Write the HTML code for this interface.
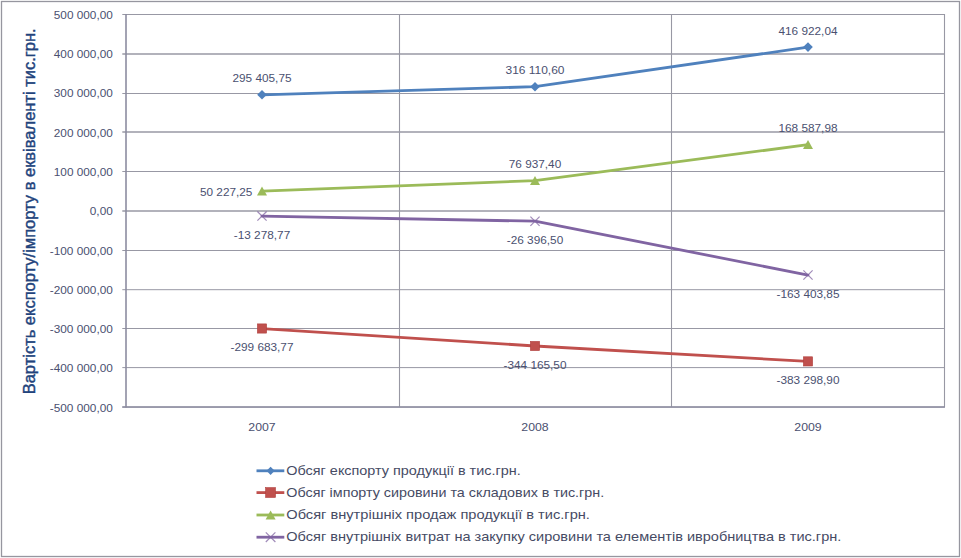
<!DOCTYPE html><html><head><meta charset="utf-8"><style>
html,body{margin:0;padding:0;background:#fff;}
svg{display:block;}
text{font-family:"Liberation Sans", sans-serif;}
</style></head><body>
<svg width="961" height="558" viewBox="0 0 961 558">
<rect x="0" y="0" width="961" height="558" fill="#fff"/>
<rect x="1.5" y="1.5" width="958" height="555" fill="none" stroke="#96969f" stroke-width="1.3"/>
<line x1="122.3" y1="14.5" x2="944.5" y2="14.5" stroke="#9898a4" stroke-width="1.0"/><line x1="122.3" y1="54.0" x2="944.5" y2="54.0" stroke="#9898a4" stroke-width="1.35"/><line x1="122.3" y1="93.5" x2="944.5" y2="93.5" stroke="#9898a4" stroke-width="1.0"/><line x1="122.3" y1="132.0" x2="944.5" y2="132.0" stroke="#9898a4" stroke-width="1.35"/><line x1="122.3" y1="171.5" x2="944.5" y2="171.5" stroke="#9898a4" stroke-width="1.0"/><line x1="122.3" y1="211.0" x2="944.5" y2="211.0" stroke="#9898a4" stroke-width="1.35"/><line x1="122.3" y1="250.5" x2="944.5" y2="250.5" stroke="#9898a4" stroke-width="1.0"/><line x1="122.3" y1="289.7" x2="944.5" y2="289.7" stroke="#9898a4" stroke-width="1.0"/><line x1="122.3" y1="328.5" x2="944.5" y2="328.5" stroke="#9898a4" stroke-width="1.0"/><line x1="122.3" y1="367.6" x2="944.5" y2="367.6" stroke="#9898a4" stroke-width="1.0"/><line x1="122.3" y1="407.1" x2="944.5" y2="407.1" stroke="#9898a4" stroke-width="1.0"/>
<line x1="399.5" y1="14" x2="399.5" y2="407" stroke="#9898a4" stroke-width="1.1"/>
<line x1="671.5" y1="14" x2="671.5" y2="407" stroke="#9898a4" stroke-width="1.1"/>
<line x1="944.5" y1="14" x2="944.5" y2="407" stroke="#9898a4" stroke-width="1.1"/>
<line x1="126" y1="14" x2="126" y2="407.5" stroke="#8c8ca0" stroke-width="1.6"/>
<line x1="122.3" y1="407" x2="945.0" y2="407" stroke="#8c8ca0" stroke-width="1.5"/>
<text x="112.8" y="18.9" font-size="11" fill="#4a5070" text-anchor="end" textLength="59.0" lengthAdjust="spacingAndGlyphs">500 000,00</text>
<text x="112.8" y="58.2" font-size="11" fill="#4a5070" text-anchor="end" textLength="59.0" lengthAdjust="spacingAndGlyphs">400 000,00</text>
<text x="112.8" y="97.4" font-size="11" fill="#4a5070" text-anchor="end" textLength="59.0" lengthAdjust="spacingAndGlyphs">300 000,00</text>
<text x="112.8" y="136.7" font-size="11" fill="#4a5070" text-anchor="end" textLength="59.0" lengthAdjust="spacingAndGlyphs">200 000,00</text>
<text x="112.8" y="176.0" font-size="11" fill="#4a5070" text-anchor="end" textLength="59.0" lengthAdjust="spacingAndGlyphs">100 000,00</text>
<text x="112.8" y="215.3" font-size="11" fill="#4a5070" text-anchor="end" textLength="23.0" lengthAdjust="spacingAndGlyphs">0,00</text>
<text x="112.8" y="254.5" font-size="11" fill="#4a5070" text-anchor="end" textLength="63.0" lengthAdjust="spacingAndGlyphs">-100 000,00</text>
<text x="112.8" y="293.8" font-size="11" fill="#4a5070" text-anchor="end" textLength="63.0" lengthAdjust="spacingAndGlyphs">-200 000,00</text>
<text x="112.8" y="333.1" font-size="11" fill="#4a5070" text-anchor="end" textLength="63.0" lengthAdjust="spacingAndGlyphs">-300 000,00</text>
<text x="112.8" y="372.3" font-size="11" fill="#4a5070" text-anchor="end" textLength="63.0" lengthAdjust="spacingAndGlyphs">-400 000,00</text>
<text x="112.8" y="411.6" font-size="11" fill="#4a5070" text-anchor="end" textLength="63.0" lengthAdjust="spacingAndGlyphs">-500 000,00</text>
<text x="262.0" y="431.2" font-size="11" fill="#4a5070" text-anchor="middle" textLength="27.3" lengthAdjust="spacingAndGlyphs">2007</text>
<text x="535.0" y="431.2" font-size="11" fill="#4a5070" text-anchor="middle" textLength="27.3" lengthAdjust="spacingAndGlyphs">2008</text>
<text x="808.0" y="431.2" font-size="11" fill="#4a5070" text-anchor="middle" textLength="27.3" lengthAdjust="spacingAndGlyphs">2009</text>
<polyline points="262.0,94.84 535.0,86.71 808.0,47.12" fill="none" stroke="#4F81BD" stroke-width="2.8" stroke-linejoin="round" stroke-linecap="round"/>
<polyline points="262.0,328.54 535.0,346.00 808.0,361.37" fill="none" stroke="#C0504D" stroke-width="2.8" stroke-linejoin="round" stroke-linecap="round"/>
<polyline points="262.0,191.13 535.0,180.64 808.0,144.65" fill="none" stroke="#9BBB59" stroke-width="2.8" stroke-linejoin="round" stroke-linecap="round"/>
<polyline points="262.0,216.06 535.0,221.22 808.0,275.02" fill="none" stroke="#8064A2" stroke-width="2.8" stroke-linejoin="round" stroke-linecap="round"/>
<path d="M262.0,90.0 L266.8,94.8 L262.0,99.6 L257.2,94.8 Z" fill="#4F81BD"/>
<path d="M535.0,81.9 L539.8,86.7 L535.0,91.5 L530.2,86.7 Z" fill="#4F81BD"/>
<path d="M808.0,42.3 L812.8,47.1 L808.0,51.9 L803.2,47.1 Z" fill="#4F81BD"/>
<rect x="257.4" y="323.9" width="9.2" height="9.2" fill="#C0504D" stroke="#b0403e" stroke-width="0.6"/>
<rect x="530.4" y="341.4" width="9.2" height="9.2" fill="#C0504D" stroke="#b0403e" stroke-width="0.6"/>
<rect x="803.4" y="356.8" width="9.2" height="9.2" fill="#C0504D" stroke="#b0403e" stroke-width="0.6"/>
<path d="M262.0,186.5 L267.0,195.5 L257.0,195.5 Z" fill="#9BBB59"/>
<path d="M535.0,176.0 L540.0,185.0 L530.0,185.0 Z" fill="#9BBB59"/>
<path d="M808.0,140.0 L813.0,149.0 L803.0,149.0 Z" fill="#9BBB59"/>
<path d="M257.4,211.5 L266.6,220.7 M266.6,211.5 L257.4,220.7" stroke="#8064A2" stroke-width="1.2" fill="none" opacity="0.75"/>
<path d="M530.4,216.6 L539.6,225.8 M539.6,216.6 L530.4,225.8" stroke="#8064A2" stroke-width="1.2" fill="none" opacity="0.75"/>
<path d="M803.4,270.4 L812.6,279.6 M812.6,270.4 L803.4,279.6" stroke="#8064A2" stroke-width="1.2" fill="none" opacity="0.75"/>
<text x="262.0" y="82.3" font-size="11" fill="#4a5070" text-anchor="middle" textLength="59.0" lengthAdjust="spacingAndGlyphs">295 405,75</text>
<text x="535.0" y="74.2" font-size="11" fill="#4a5070" text-anchor="middle" textLength="59.0" lengthAdjust="spacingAndGlyphs">316 110,60</text>
<text x="808.0" y="34.6" font-size="11" fill="#4a5070" text-anchor="middle" textLength="59.0" lengthAdjust="spacingAndGlyphs">416 922,04</text>
<text x="262.0" y="351.2" font-size="11" fill="#4a5070" text-anchor="middle" textLength="63.0" lengthAdjust="spacingAndGlyphs">-299 683,77</text>
<text x="535.0" y="368.7" font-size="11" fill="#4a5070" text-anchor="middle" textLength="63.0" lengthAdjust="spacingAndGlyphs">-344 165,50</text>
<text x="808.0" y="384.1" font-size="11" fill="#4a5070" text-anchor="middle" textLength="63.0" lengthAdjust="spacingAndGlyphs">-383 298,90</text>
<text x="252.4" y="195.9" font-size="11" fill="#4a5070" text-anchor="end" textLength="52.4" lengthAdjust="spacingAndGlyphs">50 227,25</text>
<text x="535.0" y="168.1" font-size="11" fill="#4a5070" text-anchor="middle" textLength="52.4" lengthAdjust="spacingAndGlyphs">76 937,40</text>
<text x="808.0" y="132.1" font-size="11" fill="#4a5070" text-anchor="middle" textLength="59.0" lengthAdjust="spacingAndGlyphs">168 587,98</text>
<text x="262.0" y="238.8" font-size="11" fill="#4a5070" text-anchor="middle" textLength="56.4" lengthAdjust="spacingAndGlyphs">-13 278,77</text>
<text x="535.0" y="243.9" font-size="11" fill="#4a5070" text-anchor="middle" textLength="56.4" lengthAdjust="spacingAndGlyphs">-26 396,50</text>
<text x="808.0" y="297.7" font-size="11" fill="#4a5070" text-anchor="middle" textLength="63.0" lengthAdjust="spacingAndGlyphs">-163 403,85</text>
<text transform="translate(35.1,394.3) rotate(-90)" x="0" y="0" font-size="16" fill="#22437c" stroke="#22437c" stroke-width="0.4" textLength="366" lengthAdjust="spacingAndGlyphs">Вартість експорту/імпорту в еквіваленті тис.грн.</text>
<line x1="256.5" y1="470.8" x2="284.3" y2="470.8" stroke="#4F81BD" stroke-width="2.8"/>
<path d="M270.6,466.7 L274.7,470.8 L270.6,474.9 L266.5,470.8 Z" fill="#4F81BD"/>
<text x="286.3" y="475.4" font-size="13" fill="#464b64" textLength="234.4" lengthAdjust="spacingAndGlyphs">Обсяг експорту продукції в тис.грн.</text>
<line x1="256.5" y1="492.6" x2="284.3" y2="492.6" stroke="#C0504D" stroke-width="2.8"/>
<rect x="265.6" y="487.6" width="9.9" height="9.9" fill="#C0504D" stroke="#b0403e" stroke-width="0.6"/>
<text x="286.3" y="496.5" font-size="13" fill="#464b64" textLength="317.9" lengthAdjust="spacingAndGlyphs">Обсяг імпорту сировини та складових в тис.грн.</text>
<line x1="256.5" y1="515.0" x2="284.3" y2="515.0" stroke="#9BBB59" stroke-width="2.8"/>
<path d="M270.6,510.4 L275.6,519.4 L265.6,519.4 Z" fill="#9BBB59"/>
<text x="286.3" y="518.6" font-size="13" fill="#464b64" textLength="303.6" lengthAdjust="spacingAndGlyphs">Обсяг внутрішніх продаж продукції в тис.грн.</text>
<line x1="256.5" y1="537.2" x2="284.3" y2="537.2" stroke="#8064A2" stroke-width="2.8"/>
<path d="M265.8,532.4 L275.4,542.0 M275.4,532.4 L265.8,542.0" stroke="#8064A2" stroke-width="1.2" fill="none" opacity="0.75"/>
<text x="286.3" y="540.7" font-size="13" fill="#464b64" textLength="555.0" lengthAdjust="spacingAndGlyphs">Обсяг внутрішніх витрат на закупку сировини та елементів ивробництва в тис.грн.</text>
</svg></body></html>
